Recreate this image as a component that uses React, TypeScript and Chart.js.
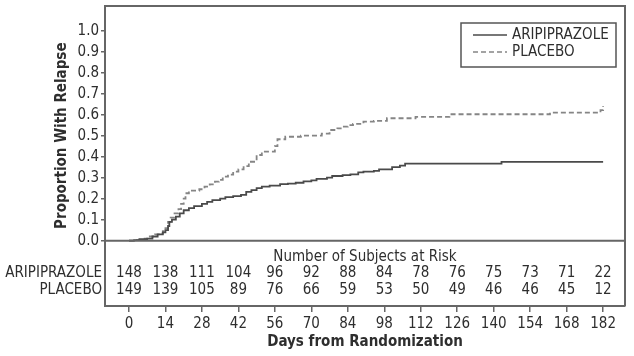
import React, { useEffect, useRef } from 'react';
import { Chart, registerables } from 'chart.js';

Chart.register(...registerables);

// ---- Data ----
const seriesNames = ['ARIPIPRAZOLE', 'PLACEBO'];

const ariDays = [0, 2, 4, 7, 9, 11, 13, 14, 15, 15.5, 16.5, 18, 19.5, 21, 23, 25, 28, 30, 32, 35, 37, 40, 43, 45, 47, 49, 51, 54, 58, 61, 64, 67, 70, 72, 76, 78, 82, 85, 88, 90, 94, 96, 101, 104, 106, 143, 182];
const ariProb = [0, 0.003, 0.007, 0.01, 0.02, 0.03, 0.04, 0.05, 0.07, 0.09, 0.1, 0.115, 0.13, 0.145, 0.155, 0.165, 0.175, 0.185, 0.193, 0.2, 0.207, 0.212, 0.218, 0.232, 0.241, 0.25, 0.257, 0.262, 0.269, 0.272, 0.276, 0.282, 0.287, 0.294, 0.3, 0.308, 0.312, 0.316, 0.325, 0.329, 0.332, 0.34, 0.35, 0.357, 0.367, 0.375, 0.375];

const plaDays = [0, 3, 6, 8, 10, 12, 13, 14, 15, 16, 17.5, 19, 20, 21, 21.7, 23, 27, 29, 31, 33, 34.5, 36, 38, 40, 42, 44, 46, 49, 51, 56, 57, 60, 66, 74, 77, 80, 82, 84, 86, 90, 94, 99, 110, 123, 161.6, 181, 182];
const plaProb = [0, 0.003, 0.01, 0.02, 0.03, 0.035, 0.045, 0.06, 0.09, 0.11, 0.13, 0.15, 0.175, 0.2, 0.226, 0.238, 0.245, 0.257, 0.268, 0.281, 0.29, 0.305, 0.315, 0.329, 0.34, 0.355, 0.376, 0.408, 0.424, 0.45, 0.483, 0.495, 0.5, 0.51, 0.527, 0.535, 0.543, 0.55, 0.556, 0.567, 0.571, 0.583, 0.59, 0.602, 0.61, 0.622, 0.641];

const riskDays = [0, 14, 28, 42, 56, 70, 84, 98, 112, 126, 140, 154, 168, 182];
const ariRisk = [148, 138, 111, 104, 96, 92, 88, 84, 78, 76, 75, 73, 71, 22];
const plaRisk = [149, 139, 105, 89, 76, 66, 59, 53, 50, 49, 46, 46, 45, 12];

const yTickValues = [0, 0.1, 0.2, 0.3, 0.4, 0.5, 0.6, 0.7, 0.8, 0.9, 1.0];

const xTitle = 'Days from Randomization';
const yTitle = 'Proportion With Relapse';
const riskTitle = 'Number of Subjects at Risk';

// ---- Styles ----
const FONT = '"Liberation Sans Narrow", "DejaVu Sans Condensed", "Liberation Sans", sans-serif';
const TEXT = '#2e2e2e';
const FRAME = '#666666';
const ARI_COLOR = '#4a4a4a';
const PLA_COLOR = '#858585';

const overlayPlugin = {
  id: 'overlay',
  afterDraw(chart: any) {
    const ctx = chart.ctx;
    const { left, right, top, bottom } = chart.chartArea;
    const xs = chart.scales.x;
    const ys = chart.scales.y;
    ctx.save();
    // frame top/right + zero line
    ctx.strokeStyle = FRAME;
    ctx.lineWidth = 2;
    ctx.beginPath();
    ctx.moveTo(left, top);
    ctx.lineTo(right, top);
    ctx.lineTo(right, bottom);
    const y0 = ys.getPixelForValue(0);
    ctx.moveTo(left, y0);
    ctx.lineTo(right, y0);
    ctx.stroke();

    // legend
    const lx = 461, ly = 23, lw = 155, lh = 44;
    ctx.lineWidth = 1.5;
    ctx.strokeStyle = '#555';
    ctx.strokeRect(lx, ly, lw, lh);
    ctx.font = '15px ' + FONT;
    ctx.fillStyle = TEXT;
    ctx.textAlign = 'left';
    ctx.textBaseline = 'middle';
    const rows = [
      { name: seriesNames[0], color: ARI_COLOR, dash: [] as number[], y: 35 },
      { name: seriesNames[1], color: PLA_COLOR, dash: [5, 3], y: 52 },
    ];
    rows.forEach((r) => {
      ctx.strokeStyle = r.color;
      ctx.lineWidth = 1.6;
      ctx.setLineDash(r.dash);
      ctx.beginPath();
      ctx.moveTo(473, r.y);
      ctx.lineTo(507, r.y);
      ctx.stroke();
      ctx.setLineDash([]);
      ctx.fillText(r.name, 512, r.y);
    });

    // at-risk table
    ctx.textAlign = 'center';
    ctx.fillText(riskTitle, (left + right) / 2, 257);
    riskDays.forEach((d, i) => {
      const px = xs.getPixelForValue(d);
      ctx.fillText(String(ariRisk[i]), px, 273);
      ctx.fillText(String(plaRisk[i]), px, 290);
    });
    ctx.textAlign = 'right';
    ctx.fillText(seriesNames[0], left - 3, 273);
    ctx.fillText(seriesNames[1], left - 3, 290);

    // titles
    ctx.font = 'bold 15px ' + FONT;
    ctx.textAlign = 'center';
    ctx.fillText(xTitle, (left + right) / 2, 342);
    ctx.save();
    ctx.translate(62, (ys.getPixelForValue(0) + ys.getPixelForValue(1)) / 2);
    ctx.rotate(-Math.PI / 2);
    ctx.fillText(yTitle, 0, 0);
    ctx.restore();
    ctx.restore();
  },
};

export default function App() {
  const ref = useRef<HTMLCanvasElement | null>(null);
  useEffect(() => {
    if (!ref.current) return;
    const chart = new Chart(ref.current, {
      type: 'line',
      data: {
        datasets: [
          {
            label: seriesNames[0],
            data: ariDays.map((d, i) => ({ x: d, y: ariProb[i] })),
            borderColor: ARI_COLOR,
            borderWidth: 1.8,
            pointRadius: 0,
            stepped: 'before',
            fill: false,
          },
          {
            label: seriesNames[1],
            data: plaDays.map((d, i) => ({ x: d, y: plaProb[i] })),
            borderColor: PLA_COLOR,
            borderWidth: 1.8,
            borderDash: [5, 3],
            pointRadius: 0,
            stepped: 'before',
            fill: false,
          },
        ],
      },
      options: {
        animation: false,
        responsive: false,
        maintainAspectRatio: false,
        layout: { padding: { top: 6, right: 9, left: 0, bottom: 0 } },
        plugins: { legend: { display: false }, tooltip: { enabled: false } },
        scales: {
          x: {
            type: 'linear',
            min: -9.2,
            max: 190.4,
            afterBuildTicks: (s: any) => {
              s.ticks = riskDays.map((v) => ({ value: v }));
            },
            afterFit: (s: any) => {
              s.height = 50;
              s.paddingLeft = 0;
              s.paddingRight = 0;
            },
            grid: { drawOnChartArea: false, drawTicks: true, tickLength: 6, color: FRAME, lineWidth: 1.5 },
            border: { display: true, color: FRAME, width: 2 },
            ticks: {
              autoSkip: false,
              maxRotation: 0,
              padding: 3,
              color: TEXT,
              font: { family: FONT, size: 15 },
              callback: (v: any) => String(v),
            },
          },
          y: {
            type: 'linear',
            min: -0.311,
            max: 1.1176,
            afterBuildTicks: (s: any) => {
              s.ticks = yTickValues.map((v) => ({ value: v }));
            },
            afterFit: (s: any) => {
              s.width = 105;
              s.paddingTop = 0;
              s.paddingBottom = 0;
            },
            grid: { drawOnChartArea: false, drawTicks: true, tickLength: 4, color: FRAME, lineWidth: 1.5 },
            border: { display: true, color: FRAME, width: 2 },
            ticks: {
              padding: 2,
              color: TEXT,
              font: { family: FONT, size: 15 },
              callback: (v: any) => Number(v).toFixed(1),
            },
          },
        },
      },
      plugins: [overlayPlugin],
    });
    return () => chart.destroy();
  }, []);
  return (
    <div style={{ position: 'fixed', left: 0, top: 0, width: 634, height: 356, background: '#fff' }}>
      <canvas ref={ref} width={634} height={356} style={{ width: 634, height: 356, display: 'block' }} />
    </div>
  );
}
